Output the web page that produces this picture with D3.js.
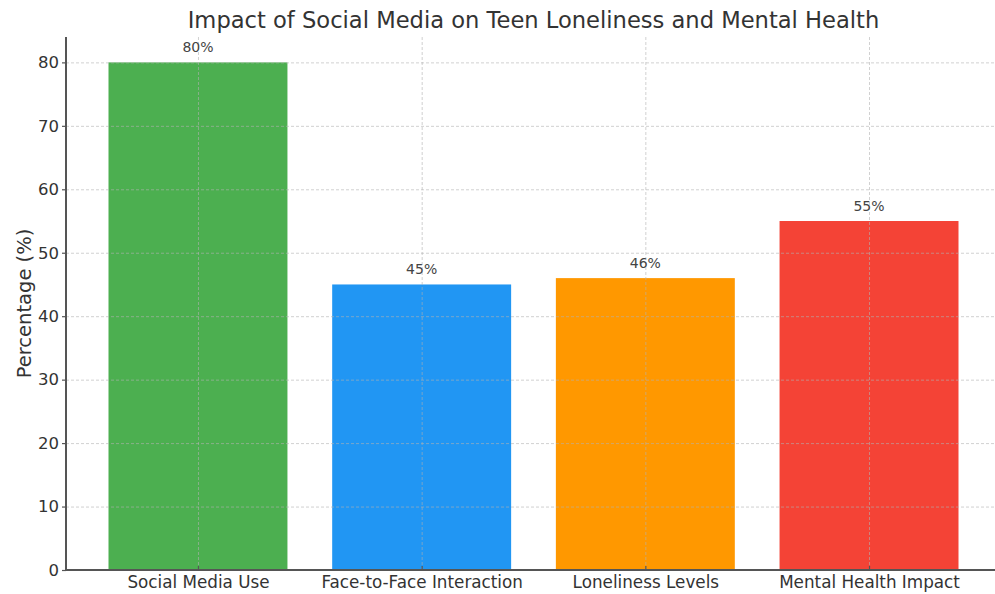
<!DOCTYPE html>
<html>
<head>
<meta charset="utf-8">
<script src="https://cdn.jsdelivr.net/npm/d3@7"></script>
<style>
  html, body { margin: 0; padding: 0; background: #fff; }
  svg { display: block; font-family: "DejaVu Sans", sans-serif; }
</style>
</head>
<body>
<svg id="chart" width="995" height="594"></svg>
<script>
// Survey figures on teen social media use and wellbeing
const categories = ["Social Media Use", "Face-to-Face Interaction", "Loneliness Levels", "Mental Health Impact"];
const values = [80, 45, 46, 55];
const barColors = ["#4CAF50", "#2196F3", "#FF9800", "#F44336"];
const yTicks = [0, 10, 20, 30, 40, 50, 60, 70, 80];
const titleText = "Impact of Social Media on Teen Loneliness and Mental Health";
const yLabelText = "Percentage (%)";

const svg = d3.select("#chart");
const plotLeft = 66, plotRight = 1001, plotTop = 37, plotBottom = 570;

// Bars of width 0.8 centred on integer positions, with 5% padding on each side
const x = d3.scaleLinear().domain([-0.59, categories.length - 1 + 0.59]).range([plotLeft, plotRight]);
const y = d3.scaleLinear().domain([0, d3.max(values) * 1.05]).range([plotBottom, plotTop]);
const barW = x(0.8) - x(0);

// Bars
svg.append("g").selectAll("rect").data(values).join("rect")
  .attr("x", (d, i) => x(i - 0.4))
  .attr("y", d => y(d))
  .attr("width", barW)
  .attr("height", d => y(0) - y(d))
  .attr("fill", (d, i) => barColors[i]);

// Dashed grid drawn above the bars
const grid = svg.append("g").attr("stroke", "#b0b0b0").attr("stroke-opacity", 0.6)
  .attr("stroke-width", 1).attr("stroke-dasharray", "3,2").attr("fill", "none");
grid.selectAll("line.h").data(yTicks).join("line").attr("class", "h")
  .attr("x1", plotLeft).attr("x2", plotRight)
  .attr("y1", d => y(d) + 0.5).attr("y2", d => y(d) + 0.5);
grid.selectAll("line.v").data(categories).join("line").attr("class", "v")
  .attr("x1", (d, i) => x(i) + 0.5).attr("x2", (d, i) => x(i) + 0.5)
  .attr("y1", plotTop).attr("y2", plotBottom);

// Y axis
const yAxis = d3.axisLeft(y).tickValues(yTicks).tickSize(4).tickPadding(3);
const gy = svg.append("g").attr("transform", `translate(${plotLeft},0)`).call(yAxis);
gy.select(".domain").remove();
gy.selectAll(".tick line").attr("stroke", "#555").attr("stroke-width", 1.2);
gy.selectAll(".tick text").attr("fill", "#333").style("font-size", "16.5px")
  .style("font-family", "DejaVu Sans, sans-serif");

// X axis
const xAxis = d3.axisBottom(x).tickValues(d3.range(categories.length))
  .tickFormat(i => categories[i]).tickSize(-4).tickPadding(6);
const gx = svg.append("g").attr("transform", `translate(0,${plotBottom})`).call(xAxis);
gx.select(".domain").remove();
gx.selectAll(".tick line").attr("stroke", "#555").attr("stroke-width", 1.2);
gx.selectAll(".tick text").attr("fill", "#333").style("font-size", "16.8px")
  .style("font-family", "DejaVu Sans, sans-serif");

// Spines (left and bottom)
svg.append("line").attr("x1", plotLeft).attr("x2", plotLeft).attr("y1", plotTop).attr("y2", plotBottom + 1)
  .attr("stroke", "#555").attr("stroke-width", 2);
svg.append("line").attr("x1", plotLeft - 1).attr("x2", plotRight).attr("y1", plotBottom).attr("y2", plotBottom)
  .attr("stroke", "#555").attr("stroke-width", 2);

// Value labels
svg.append("g").selectAll("text").data(values).join("text")
  .attr("x", (d, i) => x(i))
  .attr("y", d => y(d) - 10)
  .attr("text-anchor", "middle")
  .attr("fill", "#444")
  .style("font-size", "14px")
  .text(d => d + "%");

// Title
svg.append("text").attr("x", (plotLeft + plotRight) / 2).attr("y", 28)
  .attr("text-anchor", "middle").attr("fill", "#333").style("font-size", "22.6px")
  .text(titleText);

// Y axis label
svg.append("text").attr("transform", `translate(31,${(plotTop + plotBottom) / 2}) rotate(-90)`)
  .attr("text-anchor", "middle").attr("fill", "#333").style("font-size", "19.5px")
  .text(yLabelText);
</script>
</body>
</html>
